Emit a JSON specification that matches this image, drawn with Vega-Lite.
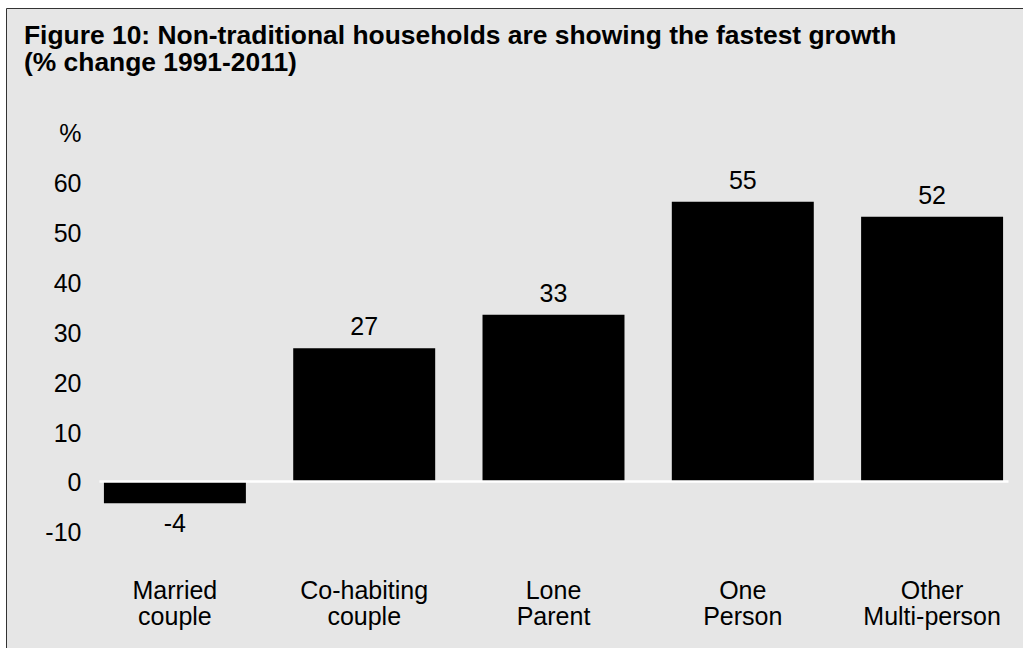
{
  "$schema": "https://vega.github.io/schema/vega-lite/v6.json",
  "autosize": "none",
  "padding": {"left": 6, "top": 8, "right": 0, "bottom": 0},
  "width": 1020,
  "height": 645,
  "background": "white",
  "config": {
    "view": {"fill": "#e6e6e6", "stroke": "#333333", "strokeWidth": 1},
    "font": "Liberation Sans",
    "axis": {"grid": false, "ticks": false, "labelFont": "Liberation Sans", "labelColor": "black", "title": null}
  },
  "title": {
    "text": ["Figure 10: Non-traditional households are showing the fastest growth", "(% change 1991-2011)"],
    "anchor": "start",
    "frame": "group",
    "font": "Liberation Sans",
    "fontSize": 26.4,
    "fontWeight": "bold",
    "color": "black",
    "lineHeight": 27,
    "dx": 18,
    "offset": -68
  },
  "data": {
    "values": [
      {"type": "Married couple", "value": -4.5, "label": "-4"},
      {"type": "Co-habiting couple", "value": 26.6, "label": "27"},
      {"type": "Lone Parent", "value": 33.3, "label": "33"},
      {"type": "One Person", "value": 56.0, "label": "55"},
      {"type": "Other Multi-person", "value": 53.0, "label": "52"}
    ]
  },
  "encoding": {
    "x": {
      "field": "type",
      "type": "nominal",
      "sort": null,
      "scale": {"range": [93, 1002], "paddingInner": 0.25, "paddingOuter": 0.026},
      "axis": {
        "orient": "bottom",
        "offset": -172.1,
        "domain": true,
        "domainColor": "white",
        "domainWidth": 2.5,
        "labelAngle": 0,
        "labelFontSize": 25,
        "labelLineHeight": 26,
        "labelBaseline": "top",
        "labelPadding": 98,
        "labelExpr": "split(datum.label, ' ')",
        "zindex": 1
      }
    },
    "y": {
      "field": "value",
      "type": "quantitative",
      "scale": {"domain": [-20, 70], "range": [572.6, 123.9], "nice": false, "zero": false},
      "axis": {
        "orient": "left",
        "offset": -75,
        "domain": false,
        "labelPadding": 0,
        "labelFontSize": 25,
        "labelOffset": 2,
        "values": [-10, 0, 10, 20, 30, 40, 50, 60, 70],
        "labelExpr": "datum.value == 70 ? '%' : '' + datum.value"
      }
    }
  },
  "layer": [
    {
      "mark": {"type": "bar", "color": "black"},
      "encoding": {"y2": {"datum": 0}}
    },
    {
      "transform": [{"filter": "datum.value > 0"}],
      "mark": {"type": "text", "fontSize": 25, "color": "black", "baseline": "alphabetic", "dy": -13},
      "encoding": {"text": {"field": "label"}}
    },
    {
      "transform": [{"filter": "datum.value < 0"}],
      "mark": {"type": "text", "fontSize": 25, "color": "black", "baseline": "alphabetic", "dy": 29},
      "encoding": {"text": {"field": "label"}}
    }
  ]
}
